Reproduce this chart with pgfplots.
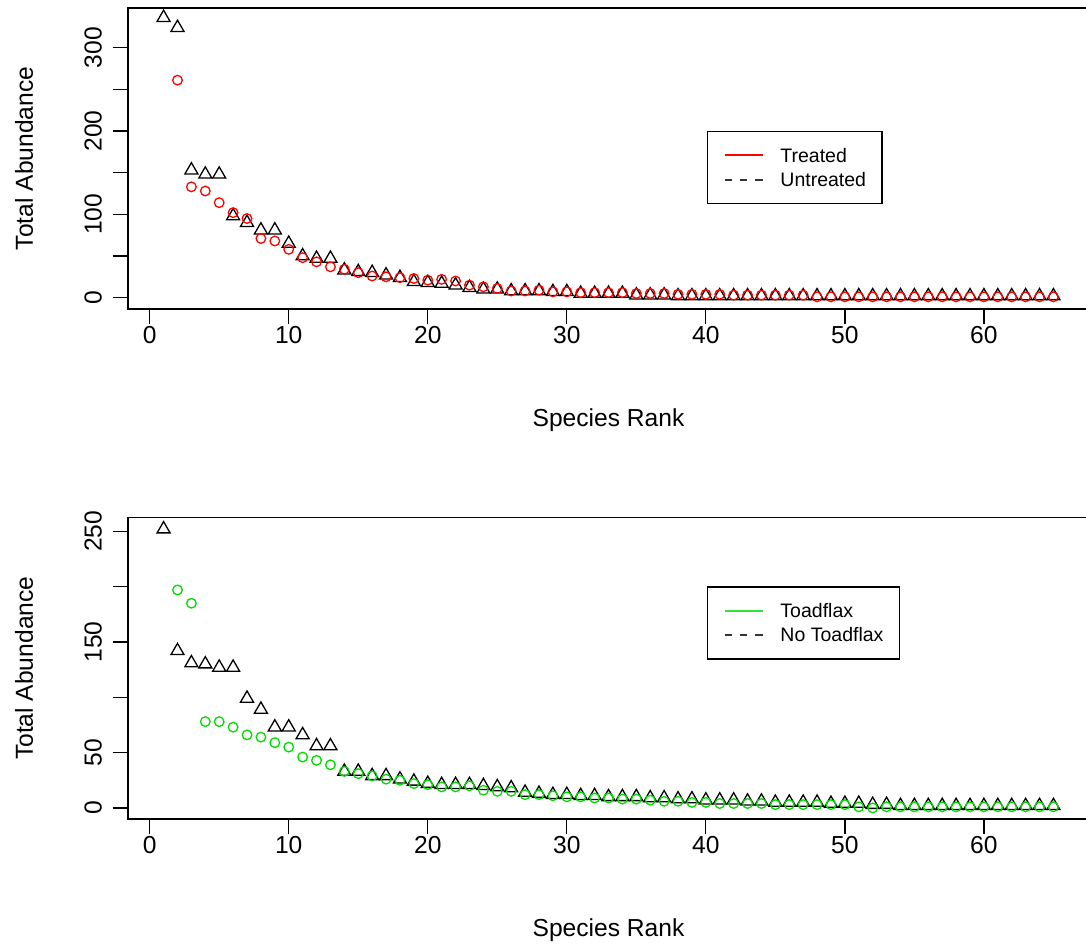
\documentclass[border=0pt]{standalone}
\usepackage{fontspec}
\setmainfont{Liberation Sans}
\usepackage{pgfplots}
\usepackage{pgfplotstable}
\pgfplotsset{compat=1.18}
\definecolor{rgreen}{RGB}{0,220,0}
\definecolor{rred}{RGB}{255,0,0}

\pgfplotstableread{
k v
1 336
2 324
3 153
4 148
5 148
6 98
7 90
8 81
9 81
10 65
11 50
12 47
13 47
14 33
15 31
16 30
17 27
18 24
19 19
20 18
21 17
22 15
23 12
24 10
25 10
26 8
27 8
28 8
29 7
30 7
31 5
32 5
33 5
34 5
35 3
36 3
37 3
38 2
39 2
40 2
41 2
42 2
43 2
44 2
45 2
46 2
47 2
48 2
49 2
50 2
51 2
52 2
53 2
54 2
55 2
56 2
57 2
58 2
59 2
60 2
61 2
62 2
63 2
64 2
65 2
}\untreated

\pgfplotstableread{
k v
2 261
3 133
4 128
5 114
6 102
7 95
8 71
9 68
10 58
11 48
12 43
13 37
14 34
15 30
16 26
17 25
18 24
19 23
20 21
21 22
22 20
23 15
24 13
25 11
26 8
27 8
28 9
29 7
30 7
31 6
32 6
33 6
34 6
35 5
36 5
37 5
38 4
39 4
40 4
41 4
42 3
43 3
44 3
45 3
46 3
47 3
48 1
49 1
50 1
51 1
52 1
53 1
54 1
55 1
56 1
57 1
58 1
59 1
60 1
61 1
62 1
63 1
64 1
65 1
}\treated

\pgfplotstableread{
k v
1 252
2 142
3 131
4 130
5 127
6 127
7 99
8 89
9 73
10 73
11 66
12 56
13 56
14 33
15 33
16 29
17 29
18 26
19 24
20 22
21 21
22 21
23 21
24 20
25 19
26 18
27 14
28 13
29 12
30 12
31 11
32 11
33 10
34 10
35 10
36 9
37 9
38 8
39 8
40 7
41 7
42 7
43 6
44 6
45 5
46 5
47 5
48 5
49 4
50 4
51 4
52 3
53 3
54 2
55 2
56 2
57 2
58 2
59 2
60 2
61 2
62 2
63 2
64 2
65 2
}\notoad

\pgfplotstableread{
k v
2 197
3 185
4 78
5 78
6 73
7 66
8 64
9 59
10 55
11 46
12 43
13 39
14 33
15 31
16 29
17 26
18 25
19 22
20 21
21 19
22 19
23 20
24 16
25 15
26 15
27 12
28 12
29 11
30 10
31 10
32 9
33 9
34 8
35 8
36 7
37 6
38 6
39 5
40 5
41 4
42 4
43 4
44 4
45 3
46 3
47 3
48 3
49 3
50 3
51 1
52 0
53 1
54 1
55 1
56 1
57 1
58 1
59 1
60 1
61 1
62 1
63 1
64 1
65 1
}\toad

\pgfplotsset{
  rplot/.style={
    scale only axis, width=961pt,
    xmin=-1.56, xmax=67.56,
    axis line style={line width=1.3pt},
    every tick/.style={line width=1.3pt, black},
    major tick length=15pt, tick align=outside,
    xtick={0,10,...,60}, xtick pos=left, ytick pos=left,
    /pgf/number format/assume math mode=true,
    tick label style={font=\fontsize{24.6}{29}\selectfont},
    label style={font=\fontsize{24.6}{29}\selectfont},
    xticklabel style={anchor=north, inner sep=0pt},
    yticklabel style={rotate=90, anchor=south, inner sep=0pt},
    xticklabel shift=2pt, yticklabel shift=11pt,
    xlabel={Species Rank}, ylabel={Total Abundance},
    xlabel style={at={(axis description cs:0.5,-0.3887)}, anchor=base},
    ylabel style={at={(axis description cs:-0.0989,0.5)}, anchor=base},
    legend cell align=left,
    legend style={anchor=north west, draw=black, line width=1.3pt,
      font=\fontsize{19.5}{22}\selectfont,
      inner xsep=16pt, inner ysep=17pt, row sep=10pt,
      nodes={inner sep=0pt, text height=14pt, text depth=0pt},
      /tikz/every odd column/.append style={column sep=17pt}},
    tri/.style={only marks, mark=triangle, mark size=7.5pt, black, mark options={line width=1.3pt}},
    circ/.style={only marks, mark=o, mark size=4.8pt, mark options={line width=1.3pt}},
  }
}

\begin{document}
\begin{tikzpicture}
\begin{axis}[rplot, at={(128pt,-309pt)}, anchor=south west, height=301pt,
  ymin=-13.6, ymax=347.6,
  ytick={0,50,...,300}, yticklabels={0,,100,,200,,300},
  legend style={at={(0.6025,0.5914)}}]
\addlegendimage{legend image code/.code={\draw[draw=rred, line width=1.8pt] (0pt,1pt) -- (38pt,1pt);}}
\addlegendentry{Treated}
\addlegendimage{legend image code/.code={\draw[draw=black!80, line width=1.8pt, dash pattern=on 7.6pt off 7.6pt] (0pt,0pt) -- (38pt,0pt);}}
\addlegendentry{Untreated}
\addplot[tri, forget plot] table[x=k, y=v] {\untreated};
\addplot[circ, color=rred, forget plot] table[x=k, y=v] {\treated};
\end{axis}

\begin{axis}[rplot, at={(128pt,-819pt)}, anchor=south west, height=301.5pt,
  ymin=-10, ymax=262.5,
  ytick={0,50,...,250}, yticklabels={0,50,,150,,250},
  legend style={at={(0.6025,0.772)}}]
\addlegendimage{legend image code/.code={\draw[draw=rgreen!80!white, line width=1.8pt] (0pt,0pt) -- (38pt,0pt);}}
\addlegendentry{Toadflax}
\addlegendimage{legend image code/.code={\draw[draw=black!80, line width=1.8pt, dash pattern=on 7.6pt off 7.6pt] (0pt,0pt) -- (38pt,0pt);}}
\addlegendentry{No Toadflax}
\addplot[tri, forget plot] table[x=k, y=v] {\notoad};
\addplot[circ, color=rgreen, forget plot] table[x=k, y=v] {\toad};
\end{axis}
\pgfresetboundingbox
\useasboundingbox (0pt,0pt) rectangle (1086pt,-947pt);
\end{tikzpicture}
\end{document}
